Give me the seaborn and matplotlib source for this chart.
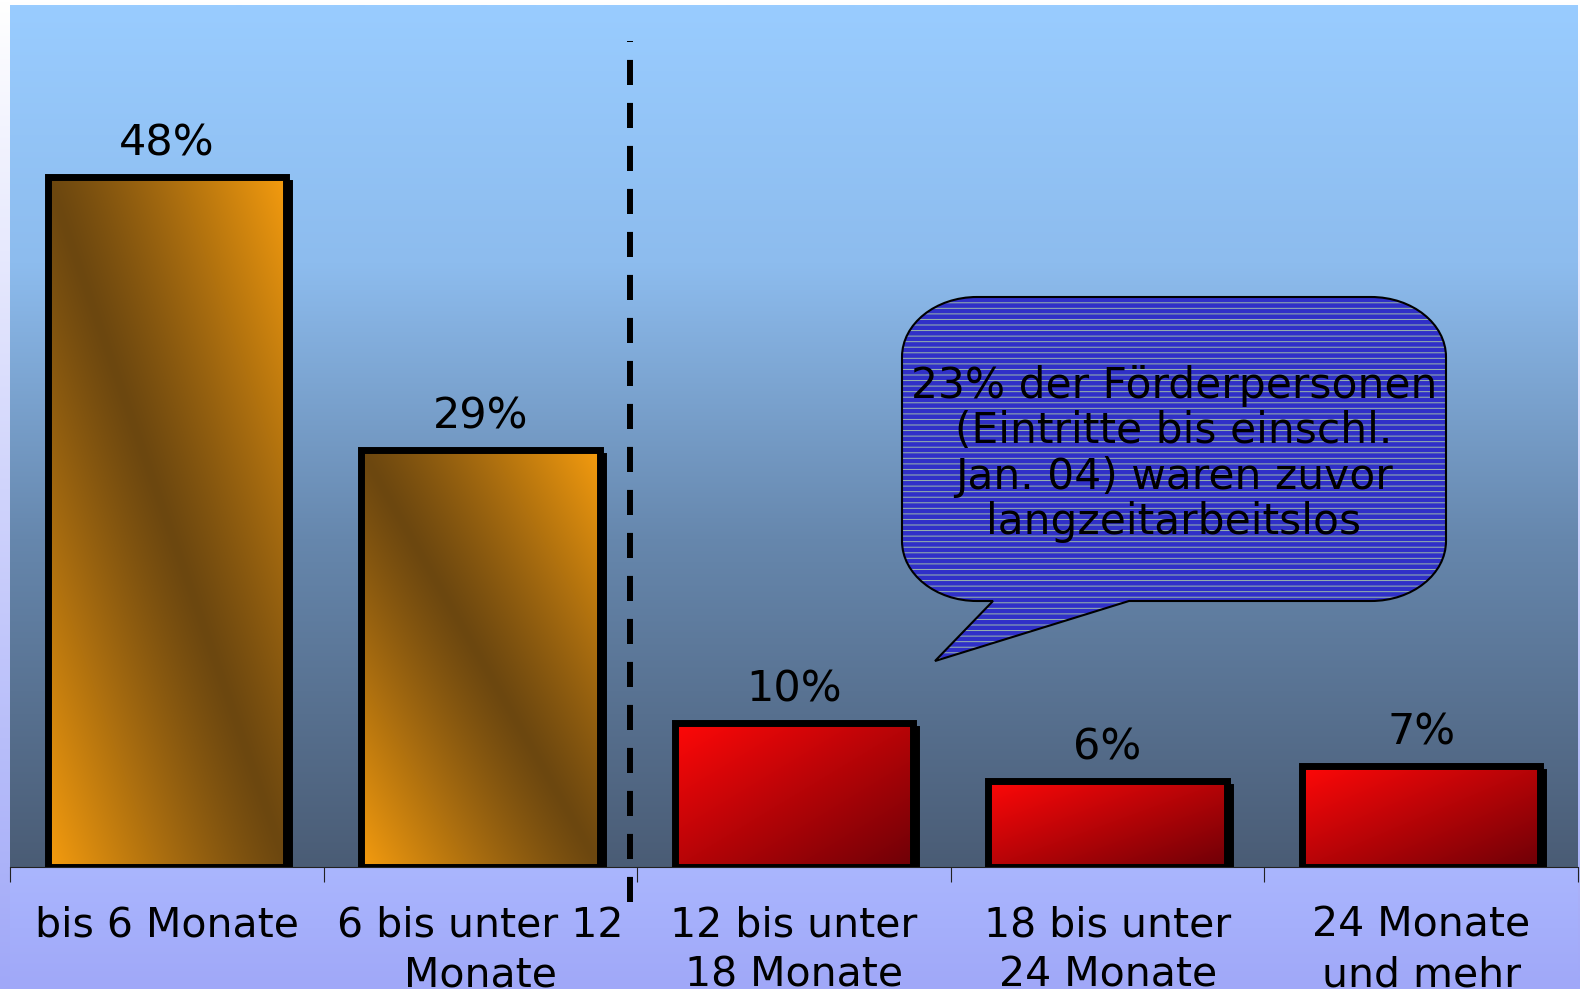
import numpy as np
import pandas as pd
import matplotlib
matplotlib.use("Agg")
import matplotlib.pyplot as plt
import seaborn as sns
from matplotlib.colors import to_rgb
from matplotlib.patches import Rectangle, PathPatch
from matplotlib.path import Path
from matplotlib.transforms import ScaledTranslation

# --- data ---
categories = ["bis 6 Monate", "6 bis unter 12\nMonate", "12 bis unter\n18 Monate",
              "18 bis unter\n24 Monate", "24 Monate\nund mehr"]
shares = [48, 29, 10, 6, 7]
value_labels = ["48%", "29%", "10%", "6%", "7%"]
bar_groups = ["kurz", "kurz", "lang", "lang", "lang"]
callout_lines = ["23% der Förderpersonen", "(Eintritte bis einschl.",
                 "Jan. 04) waren zuvor", "langzeitarbeitslos"]

W, H = 1580, 989

sns.set_theme(style="white")
plt.rcParams["font.family"] = ["DejaVu Sans", "Noto Sans"]
plt.rcParams["hatch.linewidth"] = 0.7

fig = plt.figure(figsize=(W / 100, H / 100), dpi=100)


def vgrad(stops, n=256):
    pos = np.array([s[0] for s in stops])
    cols = np.array([to_rgb(s[1]) for s in stops])
    t = np.linspace(0, 1, n)
    arr = np.stack([np.interp(t, pos, cols[:, k]) for k in range(3)], axis=-1)
    return arr[:, None, :]


# --- background (pixel coordinates) ---
bg = fig.add_axes([0, 0, 1, 1], zorder=0)
bg.set_xlim(0, W)
bg.set_ylim(H, 0)
bg.axis("off")
bg.imshow(vgrad([(0, "#ffffff"), (1, "#a0a8f8")]), extent=[0, W, H, 0],
          aspect="auto", interpolation="bilinear")
bg.imshow(vgrad([(0, "#99ccff"), (0.3, "#8dbcee"), (0.62, "#6687ad"), (1, "#4a5c75")]),
          extent=[10, 1578, 867, 5], aspect="auto", interpolation="bilinear")
bg.imshow(vgrad([(0, "#aab6fe"), (1, "#a0a8f8")]), extent=[10, 1578, H, 867],
          aspect="auto", interpolation="bilinear")
bg.set_xlim(0, W)
bg.set_ylim(H, 0)

# --- main chart ---
ax = fig.add_axes([10 / W, (H - 867) / H, 1568 / W, 862 / H], zorder=1)
ax.patch.set_alpha(0)

df = pd.DataFrame({"Dauer": categories, "Anteil": shares, "Gruppe": bar_groups})
sns.barplot(data=df, x="Dauer", y="Anteil", hue="Gruppe",
            palette={"kurz": "#d98a10", "lang": "#c00808"},
            width=0.76, dodge=False, legend=False, ax=ax,
            edgecolor="black", linewidth=5)

bars = sorted([p for p in ax.patches if isinstance(p, Rectangle)], key=lambda p: p.get_x())
shadow_tr = ax.transData + ScaledTranslation(3 / 100, -6 / 100, fig.dpi_scale_trans)

u, v = np.meshgrid(np.linspace(0, 1, 200), np.linspace(0, 1, 200))
dark_o, light_o = np.array(to_rgb("#6c4710")), np.array(to_rgb("#f59c0e"))
light_r, dark_r = np.array(to_rgb("#ff0808")), np.array(to_rgb("#6e0006"))

for bar, grp in zip(bars, bar_groups):
    x0, w, h = bar.get_x(), bar.get_width(), bar.get_height()
    if grp == "kurz":
        t = np.abs(u - v)[..., None] ** 1.15
        img = dark_o + (light_o - dark_o) * t
    else:
        t = ((u + v) / 2)[..., None]
        img = light_r + (dark_r - light_r) * t
    ax.add_patch(Rectangle((x0, 0), w, h, transform=shadow_tr, fc="black",
                           ec="black", lw=5, zorder=2))
    im = ax.imshow(img, extent=[x0, x0 + w, 0, h], aspect="auto",
                   interpolation="bilinear", zorder=2.5)
    im.set_clip_path(bar)
    bar.set_facecolor("none")
    bar.set_zorder(3)

for i, (val, lab) in enumerate(zip(shares, value_labels)):
    ax.annotate(lab, (i, val), xytext=(0, 9), textcoords="offset points",
                ha="center", va="bottom", fontsize=31, color="black", zorder=5)

ax.set_xlim(-0.5, 4.5)
ax.set_ylim(0, 60)
ax.set_yticks([])
ax.set_xlabel("")
ax.set_ylabel("")
ax.set_xticks(range(len(categories)))
ax.set_xticklabels(categories, linespacing=1.31)
ax.set_xticks(np.arange(-0.5, len(categories), 1), minor=True)
ax.tick_params(axis="x", which="major", length=0, pad=28, labelsize=29.5, labelcolor="black")
ax.tick_params(axis="x", which="minor", bottom=True, length=11, width=0.8,
               color="#222222", direction="out")
for side in ["top", "right", "left"]:
    ax.spines[side].set_visible(False)
ax.spines["bottom"].set_color("#222222")
ax.spines["bottom"].set_linewidth(0.8)

# dashed separator
ax.axvline(1.478, ymin=-0.041, ymax=0.958, color="black", lw=4.3,
           dashes=(4.2, 3.0), clip_on=False, zorder=4)

# --- callout bubble (pixel coordinates) ---
ov = fig.add_axes([0, 0, 1, 1], zorder=2)
ov.set_xlim(0, W)
ov.set_ylim(H, 0)
ov.axis("off")
ov.patch.set_alpha(0)

L, R, T, B = 902, 1446, 297, 601
rx, ry = 75, 60
k = 0.5523
xa, xb, tip = 993, 1129, (935, 661)
verts = [
    (L + rx, T), (R - rx, T),
    (R - rx + k * rx, T), (R, T + ry - k * ry), (R, T + ry),
    (R, B - ry),
    (R, B - ry + k * ry), (R - rx + k * rx, B), (R - rx, B),
    (xb, B), tip, (xa, B), (L + rx, B),
    (L + rx - k * rx, B), (L, B - ry + k * ry), (L, B - ry),
    (L, T + ry),
    (L, T + ry - k * ry), (L + rx - k * rx, T), (L + rx, T),
    (L + rx, T),
]
codes = [Path.MOVETO, Path.LINETO,
         Path.CURVE4, Path.CURVE4, Path.CURVE4,
         Path.LINETO,
         Path.CURVE4, Path.CURVE4, Path.CURVE4,
         Path.LINETO, Path.LINETO, Path.LINETO, Path.LINETO,
         Path.CURVE4, Path.CURVE4, Path.CURVE4,
         Path.LINETO,
         Path.CURVE4, Path.CURVE4, Path.CURVE4,
         Path.CLOSEPOLY]
bubble = Path(verts, codes)
ov.add_patch(PathPatch(bubble, fc="#3030c8", ec="#9cb8aa", hatch="---", lw=0, zorder=1))
ov.add_patch(PathPatch(bubble, fill=False, ec="black", lw=1.5, zorder=2))
ov.text(1174, 454, "\n".join(callout_lines), ha="center", va="center",
        fontsize=30.5, linespacing=1.1, color="black", zorder=3)

fig.savefig("out.png", dpi=100)
